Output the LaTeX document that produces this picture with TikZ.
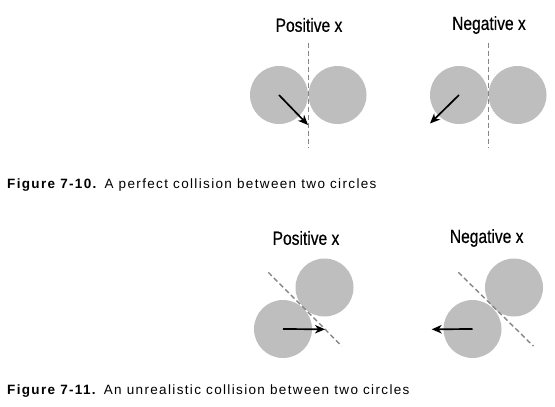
\documentclass[tikz,border=0pt]{standalone}
\usepackage{fontspec}
\setmainfont{Liberation Sans}
\newfontfamily\labelfont[FakeBold=0.6]{Liberation Sans}
\newfontfamily\capfont[LetterSpace=10]{Liberation Sans}
\usetikzlibrary{arrows.meta}
\definecolor{ballgray}{RGB}{190,190,190}
\definecolor{dashgray}{RGB}{135,135,135}
\tikzset{
  ball/.style={circle, fill=ballgray, draw=none, minimum size=58pt, inner sep=0pt},
  guide/.style={draw=dashgray, line width=1.4pt, dash pattern=on 5pt off 3pt},
  vel/.style={draw=black, line width=1.7pt, -{Stealth[length=10pt, width=8.5pt, inset=3pt]}},
  label/.style={font=\labelfont\fontsize{19}{22}\selectfont, inner sep=0pt},
  caption/.style={font=\capfont\fontsize{13.5}{16}\selectfont, anchor=west, inner sep=0pt},
}
\newcommand{\condensed}[1]{\scalebox{0.82}[1]{#1}}
\begin{document}
\begin{tikzpicture}[x=1pt, y=-1pt]
\useasboundingbox[fill=white] (0,0) rectangle (555,407);
% ---- Figure 7-10 ----
\node[label] (lp1) at (309,25) {\condensed{Positive x}};
\node[label] (ln1) at (489,25) {\condensed{Negative x}};
\node[ball] (a1) at (279,95) {};
\node[ball] (b1) at (337.5,95) {};
\node[ball] (c1) at (459,95) {};
\node[ball] (d1) at (517.5,95) {};
\coordinate (v1t) at (308.3,43);
\coordinate (v1b) at (308.3,148);
\coordinate (v2t) at (488.3,43);
\coordinate (v2b) at (488.3,148);
\draw[guide] (v1t) -- (v1b);
\draw[guide] (v2t) -- (v2b);
\coordinate (tip1) at (308,125);
\coordinate (tip2) at (430,123.5);
\draw[vel] (a1.center) -- (tip1);
\draw[vel] (c1.center) -- (tip2);
\node[caption] (cap1) at (7,185) {\textbf{Figure 7-10.} A perfect collision between two circles};
% ---- Figure 7-11 ----
\node[label] (lp2) at (306,238) {\condensed{Positive x}};
\node[label] (ln2) at (486.7,238) {\condensed{Negative x}};
\node[ball] (e1) at (283,329) {};
\node[ball] (f1) at (324.5,287.5) {};
\node[ball] (g1) at (472.5,329) {};
\node[ball] (h1) at (514,287.5) {};
\coordinate (d3t) at (268.3,272.3);
\coordinate (d3b) at (341.7,346);
\coordinate (d4t) at (458.3,272.3);
\coordinate (d4b) at (533.3,346);
\draw[guide] (d3t) -- (d3b);
\draw[guide] (d4t) -- (d4b);
\coordinate (tip3) at (325,329.3);
\coordinate (tip4) at (431.7,329.3);
\draw[vel] (e1.center) -- (tip3);
\draw[vel] (g1.center) -- (tip4);
\node[caption] (cap2) at (7,391) {\textbf{Figure 7-11.} An unrealistic collision between two circles};
\end{tikzpicture}
\end{document}
